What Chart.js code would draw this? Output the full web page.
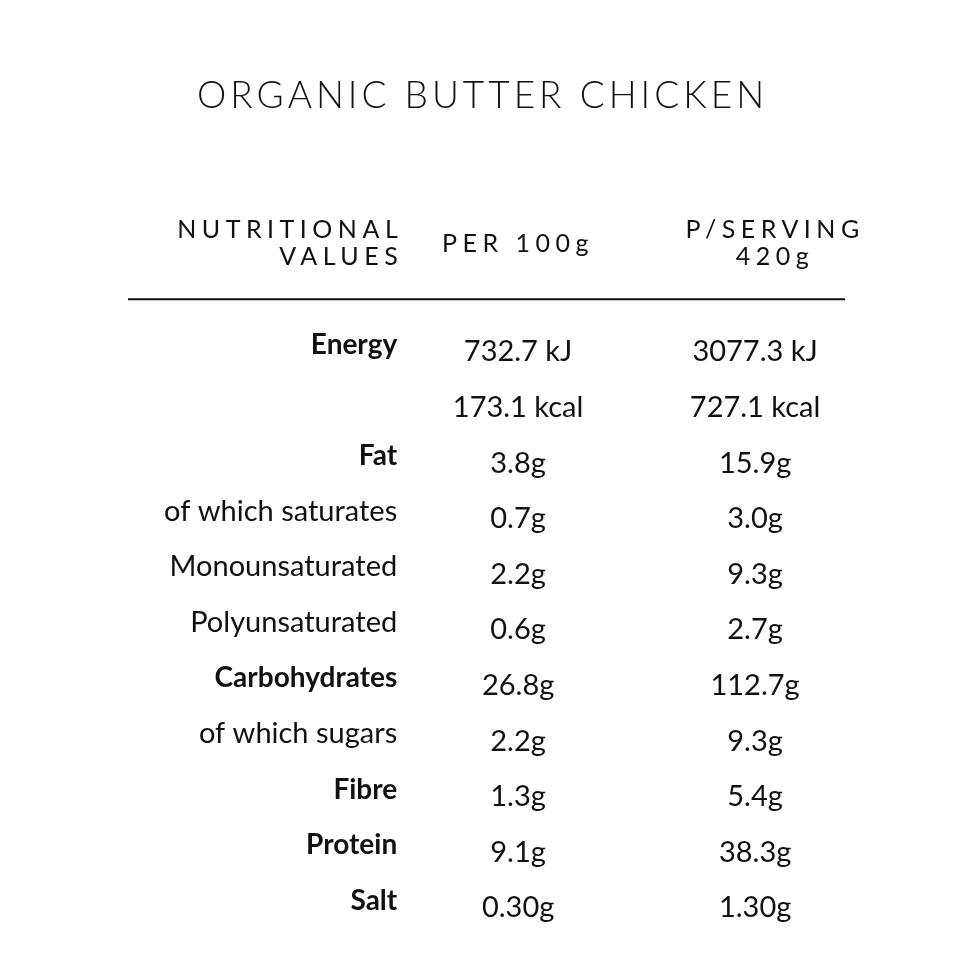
<!DOCTYPE html>
<html>
<head>
<meta charset="utf-8">
<script src="https://cdn.jsdelivr.net/npm/chart.js@4"></script>
<style>
  html, body { margin: 0; padding: 0; background: #fff; }
  #wrap { width: 980px; height: 980px; }
</style>
</head>
<body>
<div id="wrap"><canvas id="tbl" width="980" height="980"></canvas></div>
<script>
const title = 'ORGANIC BUTTER CHICKEN';
const headLabel = ['NUTRITIONAL', 'VALUES'];
const headCol1 = ['PER 100g'];
const headCol2 = ['P/SERVING', '420g'];

const rowLabels = ['Energy', '', 'Fat', 'of which saturates', 'Monounsaturated', 'Polyunsaturated',
  'Carbohydrates', 'of which sugars', 'Fibre', 'Protein', 'Salt'];
const boldRows = [true, false, true, false, false, false, true, false, true, true, true];
const per100 = ['732.7 kJ', '173.1 kcal', '3.8g', '0.7g', '2.2g', '0.6g', '26.8g', '2.2g', '1.3g', '9.1g', '0.30g'];
const perServing = ['3077.3 kJ', '727.1 kcal', '15.9g', '3.0g', '9.3g', '2.7g', '112.7g', '9.3g', '5.4g', '38.3g', '1.30g'];

// column positions on the x scale (value columns at 0 and 1)
const labelX = -0.51, col1X = 0, col2X = 1;

const cellPts = (col) => rowLabels.map((_, i) => ({ x: col, y: i }));

const textPlugin = {
  id: 'tableText',
  afterDatasetsDraw(chart) {
    const ctx = chart.ctx;
    const xs = chart.scales.x, ys = chart.scales.y;
    ctx.save();
    ctx.fillStyle = '#111';
    ctx.textBaseline = 'middle';

    // title
    ctx.font = '300 37px Lato';
    ctx.letterSpacing = '4px';
    ctx.textAlign = 'center';
    ctx.fillText(title, xs.getPixelForValue(-0.15), ys.getPixelForValue(-4.6));

    // headers
    ctx.font = '400 25px Lato';
    ctx.letterSpacing = '5.5px';
    ctx.textAlign = 'right';
    headLabel.forEach((t, i) => ctx.fillText(t, xs.getPixelForValue(labelX) + 6, ys.getPixelForValue(-2.2 + i * 0.5)));
    ctx.textAlign = 'center';
    headCol1.forEach((t) => ctx.fillText(t, xs.getPixelForValue(col1X), ys.getPixelForValue(-1.95)));
    headCol2.forEach((t, i) => ctx.fillText(t, xs.getPixelForValue(col2X) + 20, ys.getPixelForValue(-2.2 + i * 0.5)));
    ctx.letterSpacing = '0px';

    // rule
    ctx.strokeStyle = '#111';
    ctx.lineWidth = 2;
    ctx.beginPath();
    const ry = ys.getPixelForValue(-0.95);
    ctx.moveTo(xs.getPixelForValue(-1.646), ry);
    ctx.lineTo(xs.getPixelForValue(1.38), ry);
    ctx.stroke();

    // labels
    ctx.textAlign = 'right';
    rowLabels.forEach((t, i) => {
      ctx.font = boldRows[i] ? '700 28px Lato' : '400 29px Lato';
      ctx.fillText(t, xs.getPixelForValue(labelX), ys.getPixelForValue(i - 0.13));
    });

    // values, placed at the dataset points
    ctx.font = '400 29px Lato';
    ctx.textAlign = 'center';
    [per100, perServing].forEach((vals, d) => {
      chart.getDatasetMeta(d).data.forEach((pt, i) => ctx.fillText(vals[i], pt.x, pt.y));
    });
    ctx.restore();
  }
};

new Chart(document.getElementById('tbl'), {
  type: 'scatter',
  data: {
    datasets: [
      { label: 'Per 100g', data: cellPts(col1X), pointRadius: 0 },
      { label: 'Per serving', data: cellPts(col2X), pointRadius: 0 }
    ]
  },
  options: {
    responsive: false,
    animation: false,
    layout: { padding: 0 },
    plugins: { legend: { display: false }, tooltip: { enabled: false } },
    scales: {
      x: { type: 'linear', min: -2.186, max: 1.949, display: false },
      y: { type: 'linear', reverse: true, min: -6.33, max: 11.296, display: false }
    }
  },
  plugins: [textPlugin]
});
</script>
</body>
</html>
